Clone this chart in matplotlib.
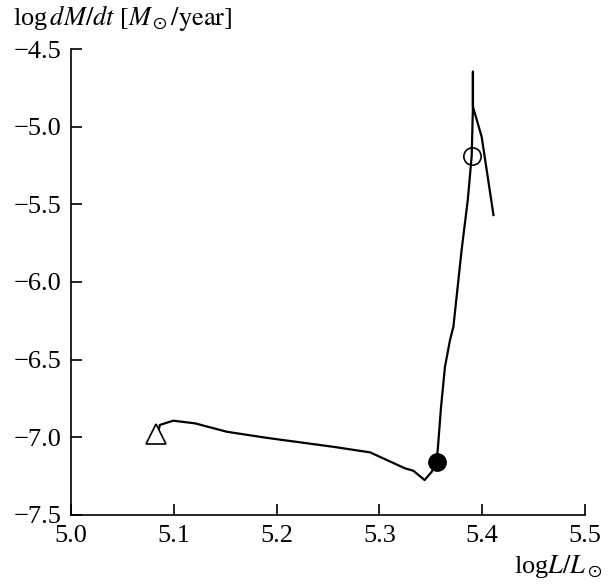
import numpy as np
import matplotlib
matplotlib.use('Agg')
import matplotlib.pyplot as plt

plt.rcParams['font.family'] = ['Liberation Serif', 'DejaVu Serif']
plt.rcParams['mathtext.fontset'] = 'stix'

# evolutionary track: log L vs log dM/dt
log_l = [5.084, 5.0865, 5.0995, 5.1206, 5.1515, 5.190, 5.255, 5.291, 5.325,
         5.333, 5.344, 5.351, 5.3557, 5.357, 5.360, 5.3638, 5.3687, 5.372,
         5.380, 5.3816, 5.386, 5.3898, 5.391, 5.391, 5.391, 5.3995, 5.411]
log_mdot = [-6.986, -6.92, -6.893, -6.910, -6.964, -7.003, -7.061, -7.097, -7.200,
            -7.215, -7.275, -7.221, -7.157, -7.061, -6.803, -6.546, -6.374, -6.288,
            -5.794, -5.708, -5.472, -5.189, -4.871, -4.646, -4.871, -5.065, -5.569]

start_pt = (5.083, -6.98)     # triangle
filled_pt = (5.3557, -7.157)  # filled circle
open_pt = (5.3898, -5.189)    # open circle

xticks = [5.0, 5.1, 5.2, 5.3, 5.4, 5.5]
yticks = [-7.5, -7.0, -6.5, -6.0, -5.5, -5.0, -4.5]

fig = plt.figure(figsize=(6.11, 5.85), dpi=100)
ax = fig.add_axes([0.1162, 0.1197, 0.8412, 0.7965])

ax.plot(log_l, log_mdot, color='black', lw=1.6)
ax.plot(*start_pt, marker='^', ms=14, mfc='white', mec='black', mew=1.2, ls='none')
ax.plot(*filled_pt, marker='o', ms=12.5, mfc='black', mec='black', ls='none')
ax.plot(*open_pt, marker='o', ms=12.5, mfc='none', mec='black', mew=1.2, ls='none')

ax.set_xlim(5.0, 5.5)
ax.set_ylim(-7.5, -4.5)
ax.set_xticks(xticks)
ax.set_xticklabels(['%.1f' % v for v in xticks])
ax.set_yticks(yticks)
ax.set_yticklabels(['\u2212%.1f' % abs(v) for v in yticks])
ax.spines['top'].set_visible(False)
ax.spines['right'].set_visible(False)
ax.tick_params(direction='in', length=8, width=1.2, labelsize=19, pad=7)
for s in ['left', 'bottom']:
    ax.spines[s].set_linewidth(1.2)

fig.text(0.021, 0.957, r'log$\,dM/dt$ [$M_\odot/\mathrm{year}$]', fontsize=19, ha='left', va='baseline')
fig.text(0.985, 0.02, r'log$L/L_\odot$', fontsize=19, ha='right', va='baseline')

fig.savefig('out.png', dpi=100)
